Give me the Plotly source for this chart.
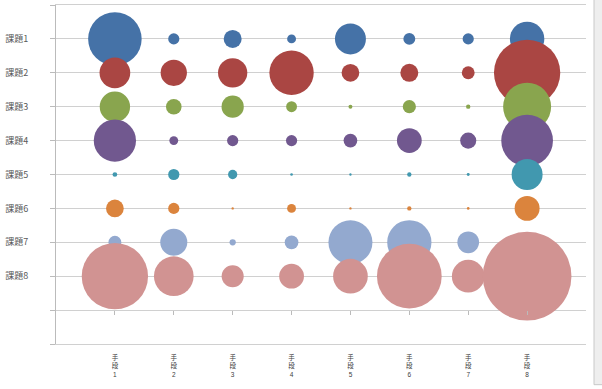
import plotly.graph_objects as go

# Categories
methods = ["手段1", "手段2", "手段3", "手段4", "手段5", "手段6", "手段7", "手段8"]
issues = ["課題1", "課題2", "課題3", "課題4", "課題5", "課題6", "課題7", "課題8"]

# Bubble values (area-proportional), one list per issue, across methods 1..8
issue1 = [36.4, 1.6, 4.1, 1.0, 12.2, 1.8, 1.6, 15.1]
issue2 = [12.0, 8.8, 10.9, 25.0, 4.0, 4.1, 2.1, 55.9]
issue3 = [11.7, 3.1, 6.3, 1.5, 0.2, 2.2, 0.24, 29.3]
issue4 = [22.7, 1.0, 1.6, 1.6, 2.4, 7.8, 3.3, 34.0]
issue5 = [0.28, 1.6, 1.1, 0.09, 0.07, 0.24, 0.11, 12.2]
issue6 = [4.0, 1.6, 0.07, 1.0, 0.07, 0.24, 0.09, 7.9]
issue7 = [2.1, 9.3, 0.5, 2.4, 24.6, 24.9, 6.0, 5.0]
issue8 = [55.9, 20.0, 6.2, 7.8, 15.3, 53.2, 13.6, 100.0]
series = [issue1, issue2, issue3, issue4, issue5, issue6, issue7, issue8]

colors = ["#4572A7", "#AA4643", "#89A54E", "#71588F",
          "#4198AF", "#DB843D", "#93A9CF", "#D19392"]

xpos = list(range(1, len(methods) + 1))
max_val = max(max(s) for s in series)
max_diam = 88.7
sizeref = 2.0 * max_val / (max_diam ** 2)

fig = go.Figure()
for i, (vals, col) in enumerate(zip(series, colors)):
    fig.add_trace(go.Scatter(
        x=xpos, y=[i + 1] * len(vals), mode="markers",
        name=issues[i],
        marker=dict(size=vals, sizemode="area", sizeref=sizeref,
                    color=col, opacity=1, line=dict(width=0)),
        showlegend=False, hoverinfo="skip",
    ))

# invisible trace to activate the tick-only axis crossing at y=9
fig.add_trace(go.Scatter(x=xpos, y=[9] * len(xpos), xaxis="x2", yaxis="y",
                         mode="markers", marker=dict(opacity=0, size=1),
                         showlegend=False, hoverinfo="skip"))

grid = "#D0D0D0"
fig.update_layout(
    width=602, height=389,
    margin=dict(l=56, r=16, t=5, b=45),
    paper_bgcolor="white", plot_bgcolor="white",
    font=dict(family="Noto Sans CJK JP", color="#595959"),
    xaxis=dict(range=[0, 9], tickvals=xpos,
               ticktext=["<br>".join(list(m)) for m in methods],
               tickfont=dict(size=6.5, color="#404040",
                             family="Liberation Sans, Noto Sans CJK JP"),
               ticks="", showgrid=False, zeroline=False,
               showline=True, mirror=True, linecolor=grid, linewidth=1,
               ticklabelstandoff=7),
    xaxis2=dict(range=[0, 9], overlaying="x", anchor="free", position=0.1,
                side="bottom", tickvals=xpos, ticks="outside", ticklen=4,
                tickcolor="#BBBBBB", showticklabels=False, showgrid=False,
                zeroline=False, showline=False),
    yaxis=dict(range=[10, 0], tickvals=list(range(0, 11)),
               ticktext=[""] + issues + ["", ""],
               tickfont=dict(size=9, color="#595959"),
               ticks="outside", ticklen=5, tickcolor="#BBBBBB",
               showgrid=True, gridcolor=grid, gridwidth=1, zeroline=False,
               showline=True, linecolor="#BBBBBB", linewidth=1,
               ticklabelstandoff=20),
    shapes=[
        dict(type="rect", xref="paper", yref="paper",
             x0=1.0151, x1=1.04, y0=-0.12, y1=1.02,
             fillcolor="#EEEEEE", line=dict(color="#C8C8C8", width=1),
             layer="below"),
    ],
)

fig.write_html("out.html",
               config={"displayModeBar": False},
               post_script="document.body.style.margin='0';")
